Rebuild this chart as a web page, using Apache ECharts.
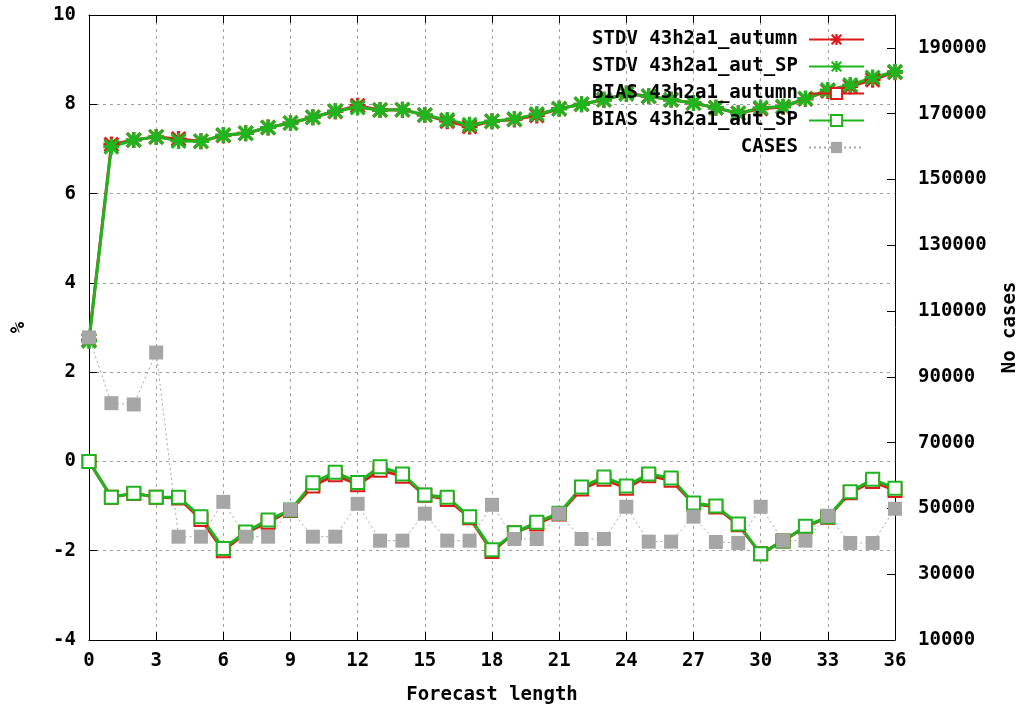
<!DOCTYPE html>
<html>
<head>
<meta charset="utf-8">
<script src="https://cdn.jsdelivr.net/npm/echarts@6/dist/echarts.min.js"></script>
<style>
html,body{margin:0;padding:0;background:#fff;}
#chart{width:1018px;height:704px;}
</style>
</head>
<body>
<div id="chart"></div>
<script>
// Forecast lengths (hours)
var forecastLength = [0,1,2,3,4,5,6,7,8,9,10,11,12,13,14,15,16,17,18,19,20,21,22,23,24,25,26,27,28,29,30,31,32,33,34,35,36];

var stdvAutumn = [2.72,7.10,7.20,7.27,7.22,7.17,7.30,7.35,7.48,7.58,7.71,7.84,7.97,7.87,7.88,7.76,7.62,7.50,7.62,7.66,7.75,7.90,8.00,8.10,8.24,8.18,8.10,8.03,7.92,7.80,7.90,7.94,8.12,8.30,8.40,8.55,8.72];
var stdvAutSP  = [2.70,7.05,7.20,7.27,7.18,7.17,7.31,7.35,7.48,7.58,7.71,7.85,7.93,7.87,7.88,7.76,7.65,7.54,7.62,7.67,7.78,7.90,8.00,8.10,8.23,8.18,8.10,8.03,7.92,7.80,7.92,7.95,8.13,8.32,8.43,8.60,8.73];
var biasAutumn = [0.00,-0.80,-0.72,-0.80,-0.82,-1.30,-2.00,-1.60,-1.36,-1.10,-0.55,-0.30,-0.52,-0.20,-0.33,-0.76,-0.85,-1.26,-2.02,-1.60,-1.40,-1.18,-0.62,-0.40,-0.60,-0.32,-0.42,-0.95,-1.02,-1.42,-2.07,-1.78,-1.47,-1.25,-0.70,-0.45,-0.65];
var biasAutSP  = [0.00,-0.80,-0.71,-0.80,-0.80,-1.24,-1.95,-1.58,-1.31,-1.09,-0.48,-0.24,-0.47,-0.12,-0.28,-0.75,-0.80,-1.24,-1.98,-1.60,-1.36,-1.16,-0.57,-0.35,-0.55,-0.28,-0.37,-0.93,-1.00,-1.40,-2.07,-1.78,-1.45,-1.24,-0.68,-0.40,-0.60];
var cases      = [102000,82000,81600,97400,41400,41400,52000,41400,41400,49600,41400,41400,51400,40200,40200,48400,40200,40200,51100,40700,40700,48400,40700,40700,50500,39900,39900,47500,39800,39500,50500,40200,40200,47800,39500,39500,49900];

var seriesNames = ['STDV 43h2a1_autumn','STDV 43h2a1_aut_SP','BIAS 43h2a1_autumn','BIAS 43h2a1_aut_SP','CASES'];
var xTicks = {min:0, max:36, step:3};
var leftTicks = {min:-4, max:10, step:2};
var rightTicks = {min:10000, max:200000, step:20000};

function pairs(vals){ return forecastLength.map(function(x,i){ return [x, vals[i]]; }); }

var FONT = 'DejaVu Sans Mono';
var RED = '#dd1a1a', GREEN = '#1fb51f', GRAY = '#a6a6a6';
var star = 'path://M0 4L10 4L10 6L0 6Z M4 0L6 0L6 10L4 10Z M0 1.4L1.4 0L10 8.6L8.6 10Z M8.6 0L10 1.4L1.4 10L0 8.6Z';
var txt = {fontFamily: FONT, fontWeight: 'bold', fontSize: 19, color: '#000'};
var grid = {type: [3,4], color: '#a0a0a0', width: 1};

var chart = echarts.init(document.getElementById('chart'), null, {renderer: 'canvas'});
chart.setOption({
  animation: false,
  backgroundColor: '#fff',
  textStyle: {fontFamily: FONT},
  grid: {left: 89, right: 123, top: 15, bottom: 64, containLabel: false, outerBoundsMode: 'none'},
  legend: {
    orient: 'vertical', right: 148, top: 25, align: 'right',
    itemWidth: 55, itemHeight: 14, itemGap: 8,
    textStyle: {fontFamily: FONT, fontWeight: 'bold', fontSize: 19, color: '#000', padding: [0, 6, 0, 0]},
    data: seriesNames
  },
  xAxis: [{
    type: 'value', position: 'bottom', min: xTicks.min, max: xTicks.max, interval: xTicks.step,
    name: 'Forecast length', nameLocation: 'middle', nameGap: 46,
    nameTextStyle: txt,
    axisLine: {show: true, onZero: false, lineStyle: {color: '#000', width: 1}},
    axisTick: {show: true, inside: true, length: 8, lineStyle: {color: '#000'}},
    axisLabel: Object.assign({margin: 12}, txt),
    splitLine: {show: true, lineStyle: grid}
  },{
    type: 'value', position: 'top', min: xTicks.min, max: xTicks.max, interval: xTicks.step,
    axisLine: {show: true, onZero: false, lineStyle: {color: '#000', width: 1}},
    axisTick: {show: true, inside: true, length: 8, lineStyle: {color: '#000'}},
    axisLabel: {show: false},
    splitLine: {show: false}
  }],
  yAxis: [{
    type: 'value', position: 'left', min: leftTicks.min, max: leftTicks.max, interval: leftTicks.step,
    name: '%', nameLocation: 'middle', nameGap: 60, nameRotate: 90,
    nameTextStyle: txt,
    axisLine: {show: true, onZero: false, lineStyle: {color: '#000', width: 1}},
    axisTick: {show: true, inside: true, length: 8, lineStyle: {color: '#000'}},
    axisLabel: Object.assign({margin: 13}, txt),
    splitLine: {show: true, lineStyle: grid}
  },{
    type: 'value', position: 'right', min: rightTicks.min, max: rightTicks.max, interval: rightTicks.step,
    name: 'No cases', nameLocation: 'middle', nameGap: 106, nameRotate: 90,
    nameTextStyle: txt,
    axisLine: {show: true, onZero: false, lineStyle: {color: '#000', width: 1}},
    axisTick: {show: true, inside: true, length: 8, lineStyle: {color: '#000'}},
    axisLabel: Object.assign({margin: 23, showMaxLabel: false, formatter: function(v){ return String(v); }}, txt),
    splitLine: {show: false}
  }],
  series: [
    {name: seriesNames[0], type: 'line', xAxisIndex: 0, yAxisIndex: 0, data: pairs(stdvAutumn),
     color: RED, symbol: star, symbolSize: 16, lineStyle: {color: RED, width: 3}, itemStyle: {color: RED}},
    {name: seriesNames[1], type: 'line', xAxisIndex: 0, yAxisIndex: 0, data: pairs(stdvAutSP),
     color: GREEN, symbol: star, symbolSize: 16, lineStyle: {color: GREEN, width: 3}, itemStyle: {color: GREEN}},
    {name: seriesNames[2], type: 'line', xAxisIndex: 0, yAxisIndex: 0, data: pairs(biasAutumn),
     color: RED, symbol: 'emptyRect', symbolSize: 13, lineStyle: {color: RED, width: 3}, itemStyle: {color: RED, borderColor: RED, borderWidth: 3}},
    {name: seriesNames[3], type: 'line', xAxisIndex: 0, yAxisIndex: 0, data: pairs(biasAutSP),
     color: GREEN, symbol: 'emptyRect', symbolSize: 13, lineStyle: {color: GREEN, width: 3}, itemStyle: {color: GREEN, borderColor: GREEN, borderWidth: 3}},
    {name: seriesNames[4], type: 'line', xAxisIndex: 0, yAxisIndex: 1, data: pairs(cases),
     color: GRAY, symbol: 'rect', symbolSize: 14, lineStyle: {color: GRAY, width: 1, type: [2,3]}, itemStyle: {color: GRAY}}
  ]
});
</script>
</body>
</html>
